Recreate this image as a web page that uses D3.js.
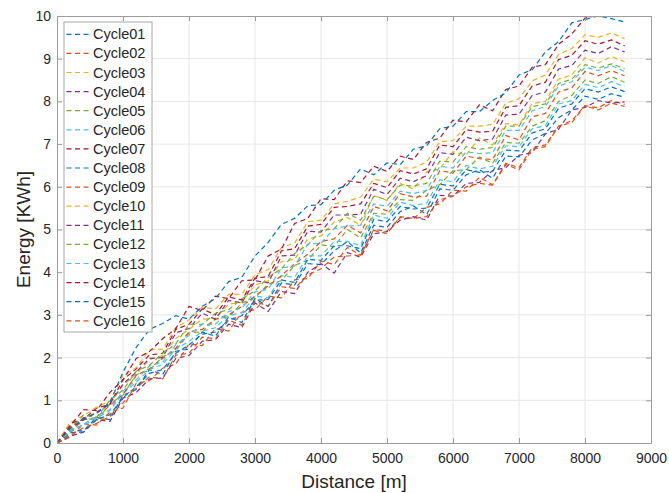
<!DOCTYPE html>
<html>
<head>
<meta charset="utf-8">
<script src="https://cdn.jsdelivr.net/npm/d3@7"></script>
<style>
  body { margin: 0; background: #fff; }
  svg { display: block; font-family: "Liberation Sans", Arial, Helvetica, sans-serif; }
</style>
</head>
<body>
<div id="chart"></div>
<script>
// energy vs distance, 16 drive cycles (matlab style dashed lines)

const distance = [0,200,400,600,800,1000,1200,1400,1600,1800,2000,2200,2400,2600,2800,3000,3200,3400,3600,3800,
  4000,4200,4400,4600,4800,5000,5200,5400,5600,5800,6000,6200,6400,6600,6800,7000,7200,7400,7600,7800,8000,8200,8400,8600]

const cycle01 = [0,0.3,0.28,0.6,0.55,1.12,1.25,1.72,1.6,2.15,2.2,2.6,2.5,2.95,2.82,3.38,3.2,3.75,3.7,4.2,4.18,4.5,4.72,4.45,5.1,5.05,5.42,5.55,5.35,5.95,5.92,6.28,6.4,6.2,6.72,6.7,7.1,7.25,7.62,7.8,8.12,8.05,8.18,8.1]
const cycle02 = [0,0.14,0.45,0.42,0.72,0.82,1.4,1.46,1.75,1.85,2.32,2.28,2.68,2.62,3.06,3.12,3.44,3.4,3.82,3.85,4.26,4.18,4.58,4.4,5.0,4.96,5.28,5.25,5.52,5.6,5.92,5.9,6.22,6.05,6.55,6.45,6.92,6.98,7.42,7.55,7.9,7.85,8.02,7.93]
const cycle03 = [0,0.4,0.55,0.7,0.92,1.35,1.62,1.95,2.05,2.45,2.66,2.9,2.92,3.25,3.3,3.7,3.8,4.25,4.3,4.78,4.85,5.18,5.28,5.1,5.8,5.68,6.08,5.95,6.35,6.42,6.82,6.75,7.14,6.98,7.48,7.45,7.95,8.0,8.52,8.62,9.02,8.9,9.05,8.93]
const cycle04 = [0,0.16,0.25,0.55,0.5,1.05,1.18,1.5,1.52,1.98,2.05,2.38,2.42,2.78,2.7,3.28,3.08,3.55,3.5,4.0,4.2,3.98,4.46,4.35,4.9,4.95,5.22,5.3,5.22,5.8,5.78,6.08,6.1,6.38,6.45,6.74,6.8,7.24,7.35,7.8,7.86,8.02,7.96,7.99]
const cycle05 = [0,0.22,0.6,0.52,0.92,1.12,1.6,1.7,2.02,2.16,2.58,2.6,2.9,2.95,3.28,3.4,3.72,3.8,4.16,4.28,4.64,4.6,5.0,4.8,5.38,5.36,5.7,5.68,5.92,6.05,6.38,6.4,6.7,6.55,7.04,7.02,7.42,7.55,8.0,8.14,8.5,8.42,8.58,8.45]
const cycle06 = [0,0.3,0.42,0.58,0.76,1.16,1.42,1.72,1.84,2.2,2.38,2.62,2.7,2.98,3.05,3.44,3.4,3.92,3.88,4.38,4.38,4.72,4.72,4.62,5.34,5.26,5.64,5.56,5.62,6.16,6.12,6.5,6.42,6.48,6.96,6.94,7.36,7.44,7.94,8.02,8.4,8.32,8.46,8.35]
const cycle07 = [0,0.46,0.55,0.82,0.9,1.48,1.74,2.06,2.1,2.66,2.78,3.14,3.0,3.42,3.35,3.86,3.9,4.5,4.55,5.08,5.12,5.52,5.54,5.6,6.08,5.98,6.38,6.3,6.42,6.98,6.94,7.34,7.28,7.3,7.86,7.9,8.36,8.45,8.98,9.08,9.42,9.34,9.44,9.3]
const cycle08 = [0,0.24,0.26,0.55,0.66,1.06,1.32,1.63,1.72,2.1,2.3,2.55,2.6,2.88,2.98,3.34,3.36,3.82,3.76,4.3,4.28,4.62,4.62,4.55,5.24,5.18,5.54,5.48,5.5,6.06,6.02,6.4,6.34,6.36,6.86,6.84,7.26,7.36,7.84,7.94,8.3,8.22,8.34,8.23]
const cycle09 = [0,0.26,0.54,0.6,0.88,1.14,1.58,1.74,1.98,2.22,2.6,2.66,2.9,3.0,3.2,3.44,3.68,3.92,4.2,4.42,4.72,4.78,5.1,4.92,5.54,5.44,5.84,5.76,5.78,6.38,6.32,6.72,6.66,6.64,7.2,7.1,7.64,7.72,8.22,8.32,8.7,8.6,8.72,8.6]
const cycle10 = [0,0.48,0.64,0.84,0.98,1.58,1.76,2.18,2.2,2.7,2.88,3.18,3.14,3.48,3.48,3.94,4.06,4.58,4.68,5.18,5.22,5.6,5.66,5.76,6.18,6.12,6.44,6.44,6.58,7.06,7.08,7.42,7.42,7.46,7.96,8.06,8.48,8.62,9.1,9.24,9.56,9.5,9.6,9.47]
const cycle11 = [0,0.36,0.58,0.7,0.92,1.38,1.66,1.98,2.0,2.58,2.68,3.04,2.9,3.34,3.28,3.8,3.75,4.38,4.4,4.96,4.94,5.34,5.34,5.36,5.94,5.82,6.2,6.12,6.26,6.8,6.76,7.16,7.08,7.12,7.68,7.7,8.14,8.22,8.76,8.84,9.2,9.12,9.28,9.16]
const cycle12 = [0,0.28,0.66,0.6,1.0,1.24,1.68,1.82,2.1,2.32,2.78,2.78,3.04,3.12,3.38,3.56,3.88,4.08,4.44,4.64,4.98,5.02,5.38,5.22,5.78,5.7,6.04,6.02,6.08,6.6,6.58,6.94,6.88,6.92,7.42,7.42,7.88,7.94,8.42,8.52,8.86,8.78,8.88,8.77]
const cycle13 = [0,0.28,0.44,0.62,0.78,1.22,1.48,1.8,1.9,2.3,2.52,2.78,2.78,3.08,3.16,3.54,3.6,4.1,4.14,4.66,4.68,5.02,5.08,5.1,5.6,5.54,5.9,5.84,5.92,6.48,6.44,6.82,6.78,6.8,7.32,7.32,7.78,7.88,8.36,8.46,8.8,8.72,8.84,8.7]
const cycle14 = [0,0.4,0.78,0.76,1.18,1.48,1.98,2.14,2.44,2.68,3.2,3.1,3.44,3.38,3.8,3.82,4.38,4.54,5.14,5.26,5.72,5.7,6.14,6.1,6.48,6.36,6.72,6.64,7.04,7.14,7.56,7.52,7.92,7.78,8.28,8.36,8.8,8.86,9.34,9.58,9.95,10.02,10.14,10.2]
const cycle15 = [0,0.34,0.54,0.72,0.94,1.66,2.24,2.66,2.8,2.98,2.9,3.2,3.38,3.78,3.88,4.38,4.7,5.12,5.26,5.56,5.58,5.92,6.04,6.42,6.28,6.56,6.52,6.88,6.96,7.36,7.42,7.76,7.76,8.02,8.2,8.62,8.74,9.16,9.4,9.84,9.92,10.0,9.94,9.86]
const cycle16 = [0,0.18,0.36,0.46,0.62,0.94,1.28,1.55,1.5,2.06,2.1,2.48,2.44,2.88,2.76,3.32,3.2,3.66,3.62,3.94,4.08,4.36,4.38,4.4,4.98,4.9,5.3,5.26,5.3,5.7,5.78,6.0,6.08,6.04,6.52,6.4,6.88,6.94,7.42,7.5,7.9,7.8,7.96,7.88]

const cycleNames = ["Cycle01","Cycle02","Cycle03","Cycle04","Cycle05","Cycle06","Cycle07","Cycle08",
  "Cycle09","Cycle10","Cycle11","Cycle12","Cycle13","Cycle14","Cycle15","Cycle16"]
const cycleValues = [cycle01,cycle02,cycle03,cycle04,cycle05,cycle06,cycle07,cycle08,
  cycle09,cycle10,cycle11,cycle12,cycle13,cycle14,cycle15,cycle16]

const xTicks = [0,1000,2000,3000,4000,5000,6000,7000,8000,9000]
const yTicks = [0,1,2,3,4,5,6,7,8,9,10]

// matlab default colour order, repeats every 7 lines
const palette = ["#0072BD","#D95319","#EDB120","#7E2F8E","#77AC30","#4DBEEE","#A2142F"]

const series = cycleNames.map((name, i) => ({
  name: name,
  color: palette[i % palette.length],
  points: distance.map((d, j) => ({ x: d, y: cycleValues[i][j] }))
}))

// sizes
const W = 669, H = 493
const m = { top: 16, right: 18, bottom: 50, left: 57 }
const axisCol = "#9c9c9c"
const textCol = "#262626"

const svg = d3.select("#chart").append("svg")
  .attr("width", W).attr("height", H)

const x = d3.scaleLinear().domain([0, 9000]).range([m.left, W - m.right])
const y = d3.scaleLinear().domain([0, 10]).range([H - m.bottom, m.top])

// grid lines
svg.append("g").selectAll("line")
  .data(xTicks.slice(1, -1))
  .join("line")
  .attr("x1", d => x(d)).attr("x2", d => x(d))
  .attr("y1", y(0)).attr("y2", y(10))
  .attr("stroke", "#e6e6e6").attr("stroke-width", 1)

svg.append("g").selectAll("line")
  .data(yTicks.slice(1, -1))
  .join("line")
  .attr("x1", x(0)).attr("x2", x(9000))
  .attr("y1", d => y(d)).attr("y2", d => y(d))
  .attr("stroke", "#e6e6e6").attr("stroke-width", 1)

// clip the lines to the axes box (one cycle goes over 10)
svg.append("clipPath").attr("id", "plotclip")
  .append("rect")
  .attr("x", x(0)).attr("y", y(10))
  .attr("width", x(9000) - x(0)).attr("height", y(0) - y(10))

const line = d3.line().x(d => x(d.x)).y(d => y(d.y))

svg.append("g").attr("clip-path", "url(#plotclip)")
  .selectAll("path")
  .data(series)
  .join("path")
  .attr("d", d => line(d.points))
  .attr("fill", "none")
  .attr("stroke", d => d.color)
  .attr("stroke-width", 1.2)
  .attr("stroke-dasharray", "5,3.5")

// axes, ticks point inwards like matlab
function styleAxis(g) {
  g.selectAll(".domain").attr("stroke", axisCol)
  g.selectAll(".tick line").attr("stroke", axisCol)
  g.selectAll(".tick text").attr("fill", textCol).style("font-size", "14px")
    .style("font-family", "'Liberation Sans', Arial, Helvetica, sans-serif")
}

svg.append("g")
  .attr("transform", `translate(0,${y(0)})`)
  .call(d3.axisBottom(x).tickValues(xTicks).tickFormat(d3.format("d"))
    .tickSize(-5).tickSizeOuter(0).tickPadding(10))
  .call(styleAxis)

svg.append("g")
  .attr("transform", `translate(0,${y(10)})`)
  .call(d3.axisTop(x).tickValues(xTicks).tickSize(-5).tickSizeOuter(0).tickFormat(""))
  .call(styleAxis)

svg.append("g")
  .attr("transform", `translate(${x(0)},0)`)
  .call(d3.axisLeft(y).tickValues(yTicks).tickFormat(d3.format("d"))
    .tickSize(-5).tickSizeOuter(0).tickPadding(6))
  .call(styleAxis)

svg.append("g")
  .attr("transform", `translate(${x(9000)},0)`)
  .call(d3.axisRight(y).tickValues(yTicks).tickSize(-5).tickSizeOuter(0).tickFormat(""))
  .call(styleAxis)

// axis titles
svg.append("text")
  .attr("x", (x(0) + x(9000)) / 2).attr("y", 488)
  .attr("text-anchor", "middle")
  .style("font-size", "19px").attr("fill", textCol)
  .text("Distance [m]")

svg.append("text")
  .attr("transform", `translate(30,${(y(0) + y(10)) / 2}) rotate(-90)`)
  .attr("text-anchor", "middle")
  .style("font-size", "19px").attr("fill", textCol)
  .text("Energy [KWh]")

// legend box
const leg = svg.append("g").attr("transform", "translate(64,22)")
const rowH = 19.1

leg.append("rect")
  .attr("width", 88).attr("height", 310)
  .attr("fill", "#fff").attr("stroke", "#a8a8a8").attr("stroke-width", 1)

const rows = leg.selectAll("g.row")
  .data(series)
  .join("g")
  .attr("class", "row")
  .attr("transform", (d, i) => `translate(0,${12.3 + i * rowH})`)

rows.append("line")
  .attr("x1", 2.5).attr("x2", 24.5)
  .attr("stroke", d => d.color).attr("stroke-width", 1.2)
  .attr("stroke-dasharray", "5,3.5")

rows.append("text")
  .attr("x", 29).attr("y", 0).attr("dy", "0.35em")
  .style("font-size", "14.5px").attr("fill", textCol)
  .text(d => d.name)
</script>
</body>
</html>
